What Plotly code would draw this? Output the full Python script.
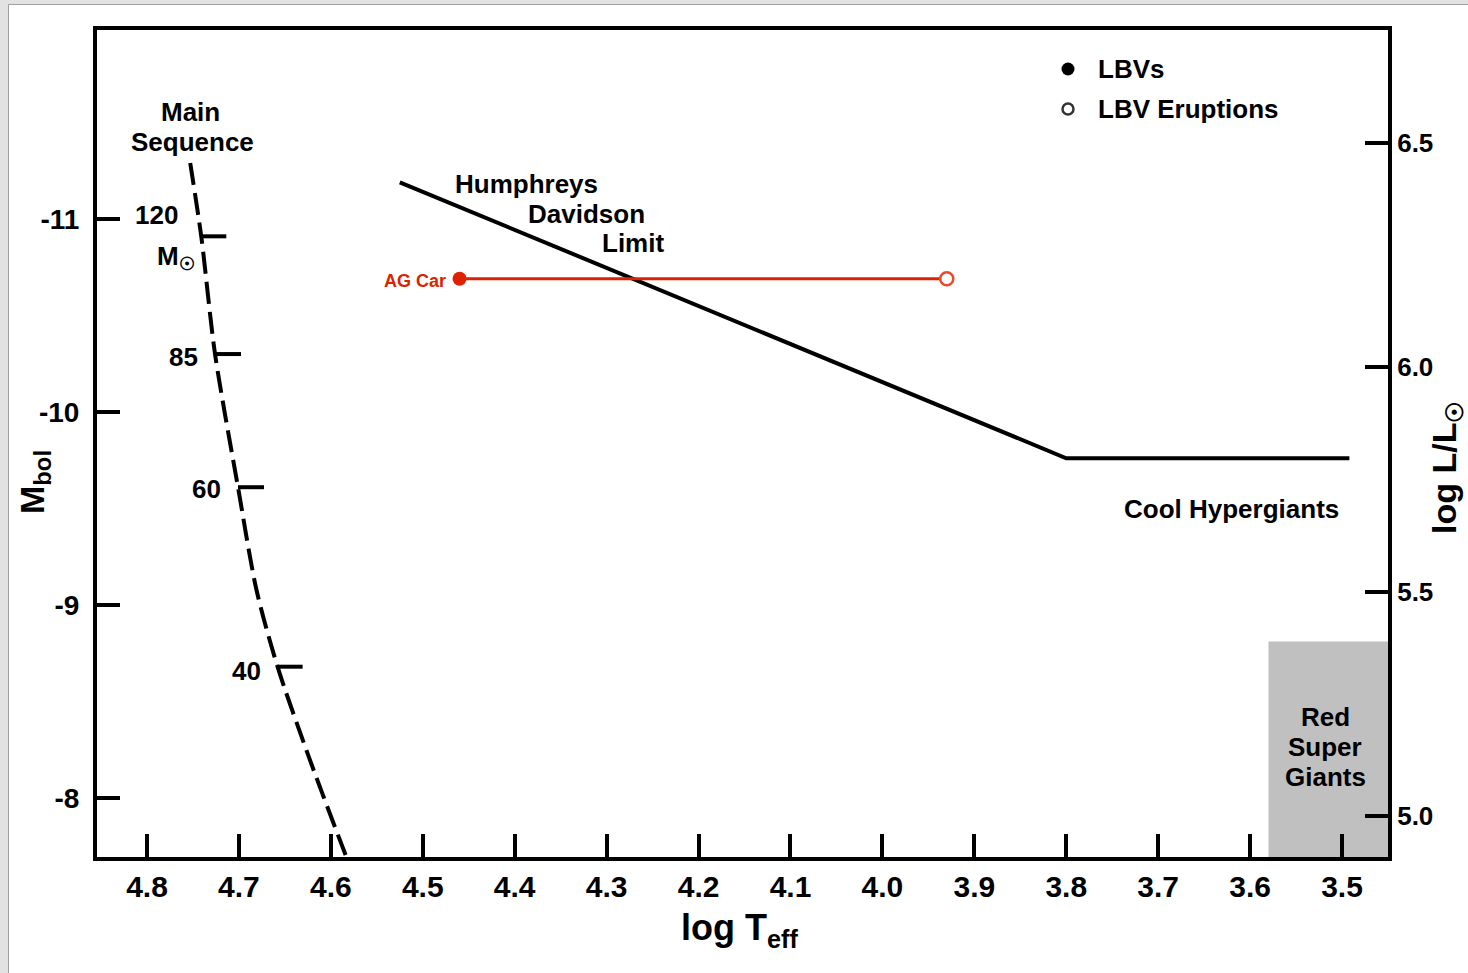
import plotly.graph_objects as go

W, H = 1468, 973
ML, MR, MT, MB = 97, 80, 30, 116
PW, PH = W - ML - MR, H - MT - MB


def px(x):
    return (x - ML) / PW


def py(y):
    return 1 - (y - MT) / PH


# ---------------- data ----------------
ms_logT = [4.753, 4.741, 4.726, 4.701, 4.681, 4.658, 4.623, 4.582, 4.577]
ms_mbol = [-11.29, -10.91, -10.30, -9.61, -9.08, -8.68, -8.20, -7.68, -7.62]

mass_labels = ["120", "85", "60", "40"]
mass_logT = [4.742, 4.726, 4.701, 4.659]
mass_mbol = [-10.91, -10.30, -9.61, -8.68]

hd_logT = [4.525, 3.80, 3.492]
hd_mbol = [-11.19, -9.76, -9.76]

agcar_logT = [4.46, 3.93]
agcar_mbol = [-10.69, -10.69]

rsg_logT_edge = 3.58
rsg_mbol_top = -8.81

legend_names = ["LBVs", "LBV Eruptions"]

x_range = [4.8544, 3.4500]
y_range = [-7.694, -11.979]
y2_range = [4.9086, 6.7519]

x_ticks = [4.8, 4.7, 4.6, 4.5, 4.4, 4.3, 4.2, 4.1, 4.0, 3.9, 3.8, 3.7, 3.6, 3.5]
y_ticks = [-11, -10, -9, -8]
y2_ticks = [6.5, 6.0, 5.5, 5.0]

RED = "#dc2200"
FONT = "Liberation Sans, Arial, sans-serif"

fig = go.Figure()

# Main sequence
fig.add_trace(go.Scatter(x=ms_logT, y=ms_mbol, mode="lines",
                         line=dict(color="black", width=4, dash="22px,8px",
                                   shape="spline", smoothing=0.8),
                         showlegend=False, hoverinfo="skip"))
# Humphreys-Davidson limit
fig.add_trace(go.Scatter(x=hd_logT, y=hd_mbol, mode="lines",
                         line=dict(color="black", width=4),
                         showlegend=False, hoverinfo="skip"))
# AG Car
fig.add_trace(go.Scatter(x=agcar_logT, y=agcar_mbol, mode="lines",
                         line=dict(color=RED, width=3),
                         showlegend=False, hoverinfo="skip"))
fig.add_trace(go.Scatter(x=agcar_logT[:1], y=agcar_mbol[:1], mode="markers",
                         marker=dict(symbol="circle", size=14, color=RED),
                         showlegend=False, hoverinfo="skip"))
fig.add_trace(go.Scatter(x=agcar_logT[1:], y=agcar_mbol[1:], mode="markers",
                         marker=dict(symbol="circle", size=13, color="white",
                                     line=dict(color="#e84a2a", width=2.5)),
                         showlegend=False, hoverinfo="skip"))
# secondary axis holder
fig.add_trace(go.Scatter(x=[None], y=[None], yaxis="y2", showlegend=False,
                         hoverinfo="skip"))

shapes = [
    dict(type="rect", xref="paper", yref="paper", x0=px(8.5), x1=px(1520),
         y0=py(1010), y1=py(4.5), fillcolor="white",
         line=dict(color="#a0a0a0", width=1), layer="below"),
    dict(type="rect", xref="x", yref="y", x0=rsg_logT_edge, x1=x_range[1],
         y0=y_range[0], y1=rsg_mbol_top, fillcolor="#c0c0c0",
         line=dict(width=0), layer="below"),
]
for lt, mb in zip(mass_logT, mass_mbol):
    shapes.append(dict(type="line", xref="x", yref="y", xsizemode="pixel",
                       xanchor=lt, x0=0, x1=26, y0=mb, y1=mb,
                       line=dict(color="black", width=4)))

# legend symbols (manual legend)
shapes.append(dict(type="circle", xref="paper", yref="paper",
                   xsizemode="pixel", ysizemode="pixel",
                   xanchor=px(1068), yanchor=py(69), x0=-6.5, x1=6.5, y0=-6.5, y1=6.5,
                   fillcolor="black", line=dict(width=0)))
shapes.append(dict(type="circle", xref="paper", yref="paper",
                   xsizemode="pixel", ysizemode="pixel",
                   xanchor=px(1068), yanchor=py(109), x0=-5.5, x1=5.5, y0=-5.5, y1=5.5,
                   fillcolor="white", line=dict(color="#333333", width=2.5)))

ann = []


def A(text, x, y, size=26, xanchor="center", yanchor="middle", color="black",
      xref="x", yref="y", **kw):
    ann.append(dict(text=text, x=x, y=y, xref=xref, yref=yref, showarrow=False,
                    xanchor=xanchor, yanchor=yanchor,
                    font=dict(size=size, color=color, family=FONT, weight="bold"), **kw))


A(legend_names[0], px(1096), py(69), xanchor="left", xref="paper", yref="paper")
A(legend_names[1], px(1096), py(109), xanchor="left", xref="paper", yref="paper")

A("Main", 4.7532, -11.554)
A("Sequence", 4.750, -11.399)
for lab, lt, mb, dx, dy in zip(mass_labels, mass_logT, mass_mbol,
                               [-20, -15, -15, -14], [21, -3, -2, -4]):
    A(lab, lt, mb, xanchor="right", xshift=dx, yshift=dy)
A("M<sub>☉</sub>", 4.791, -10.80, xanchor="left")
A("Humphreys", 4.4675, -11.181, xanchor="left")
A("Davidson", 4.3875, -11.026, xanchor="left")
A("Limit", 4.3075, -10.876, xanchor="left")
A("AG Car", agcar_logT[0], agcar_mbol[0], size=18, xanchor="right", color=RED,
  xshift=-12, yshift=-2)
A("Cool Hypergiants", 3.6207, -9.497)
A("Red", 3.5184, -8.420)
A("Super", 3.5184, -8.264)
A("Giants", 3.5184, -8.109)

# axis titles
A("M<sub>bol</sub>", px(34), py(482), size=34, xref="paper", yref="paper",
  textangle=-90)
A("log T<sub>eff</sub>", px(739), py(930), size=36, xref="paper", yref="paper")
A("log L/L<sub>☉</sub>", px(1446), py(467), size=34, xref="paper", yref="paper",
  textangle=-90)

axis_common = dict(showgrid=False, zeroline=False, showline=True, linewidth=4,
                   linecolor="black", ticks="inside", ticklen=23, tickwidth=4,
                   tickcolor="black")

fig.update_layout(
    width=W, height=H,
    margin=dict(l=ML, r=MR, t=MT, b=MB, autoexpand=False),
    paper_bgcolor="#e2e2e2",
    plot_bgcolor="white",
    font=dict(family=FONT, color="black", weight="bold"),
    xaxis=dict(range=x_range, autorange=False, tickvals=x_ticks,
               ticktext=["%.1f" % v for v in x_ticks], mirror=True,
               tickfont=dict(size=30, family=FONT, weight="bold"),
               **axis_common),
    yaxis=dict(range=y_range, autorange=False, tickvals=y_ticks,
               ticktext=[str(v) for v in y_ticks], ticklabelstandoff=8,
               tickfont=dict(size=28, family=FONT, weight="bold"),
               **axis_common),
    yaxis2=dict(range=y2_range, autorange=False, overlaying="y", side="right",
                tickvals=y2_ticks, ticktext=["%.1f" % v for v in y2_ticks],
                tickfont=dict(size=26, family=FONT, weight="bold"),
                **axis_common),
    shapes=shapes,
    annotations=ann,
    showlegend=False,
)

fig.write_html("out.html")
